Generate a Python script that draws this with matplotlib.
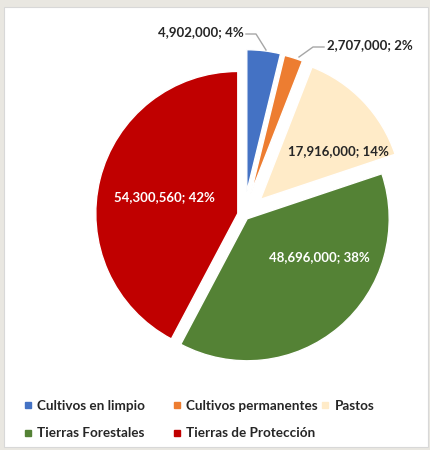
import matplotlib.pyplot as plt
from matplotlib.lines import Line2D
from matplotlib.patches import Rectangle

# Uso del suelo (hectáreas)
categorias = ['Cultivos en limpio', 'Cultivos permanentes', 'Pastos',
              'Tierras Forestales', 'Tierras de Protección']
hectareas = [4902000, 2707000, 17916000, 48696000, 54300560]
porcentajes = [4, 2, 14, 38, 42]
colores = ['#4472C4', '#ED7D31', '#FFEBC8', '#548235', '#C00000']
separacion = [0.165, 0.16, 0.16, 0.035, 0.045]

plt.rcParams['font.family'] = ['Lato', 'DejaVu Sans']

W, H = 430, 450
R_PX = 142.0
CX, CY = 244.0, 215.0

fig = plt.figure(figsize=(W / 100, H / 100), dpi=100)
fig.patch.set_facecolor('#e9e7e1')

# white chart area on top of the greyish window background
fig.patches.append(Rectangle((4 / W, 3 / H), 424 / W, 440 / H,
                             transform=fig.transFigure, facecolor='white',
                             edgecolor='#d8d8d8', linewidth=0.8, zorder=-5))

ax = fig.add_axes([0, 0, 1, 1])
ax.patch.set_alpha(0)

wedges, _ = ax.pie(hectareas, colors=colores, startangle=90, counterclock=False,
                   explode=separacion, radius=1.0,
                   wedgeprops={'edgecolor': 'white', 'linewidth': 1.0})
ax.set_aspect('auto')
ax.set_xlim(-CX / R_PX, (W - CX) / R_PX)
ax.set_ylim((CY - H) / R_PX, CY / R_PX)
ax.axis('off')


def px(x, y):
    return ((x - CX) / R_PX, (CY - y) / R_PX)


etiquetas = [f'{v:,}; {p}%' for v, p in zip(hectareas, porcentajes)]
estilo = dict(fontsize=9.5, fontweight='bold', ha='center', va='center')

# labels outside the two thin slices, with leader lines
ax.text(*px(201, 32), etiquetas[0], color='#262626', **estilo)
ax.plot(*zip(px(246, 34), px(256, 34), px(266, 50)), color='#a6a6a6', lw=1)
ax.text(*px(370, 45), etiquetas[1], color='#262626', **estilo)
ax.plot(*zip(px(324, 47), px(313, 47), px(299, 57)), color='#a6a6a6', lw=1)

# labels inside the larger slices
ax.text(*px(338, 151), etiquetas[2], color='#262626', **estilo)
ax.text(*px(319, 257), etiquetas[3], color='white', **estilo)
ax.text(*px(164, 197), etiquetas[4], color='white', **estilo)

# legend laid out in three columns, each placed on its own
columnas = [([0, 3], 24), ([1, 4], 173), ([2], 321)]
for indices, x0 in columnas:
    handles = [Line2D([], [], marker='s', linestyle='none', markersize=4.5,
                      markerfacecolor=colores[i], markeredgecolor=colores[i])
               for i in indices]
    fig.legend(handles, [categorias[i] for i in indices],
               loc='upper left', bbox_to_anchor=(x0 / W, 1 - 400 / H),
               frameon=False, prop={'size': 9.7, 'weight': 'bold'},
               labelcolor='#262626', handlelength=0.6, handletextpad=0.4,
               labelspacing=1.15, borderpad=0, borderaxespad=0)

fig.savefig('out.png', dpi=100, facecolor=fig.get_facecolor())
